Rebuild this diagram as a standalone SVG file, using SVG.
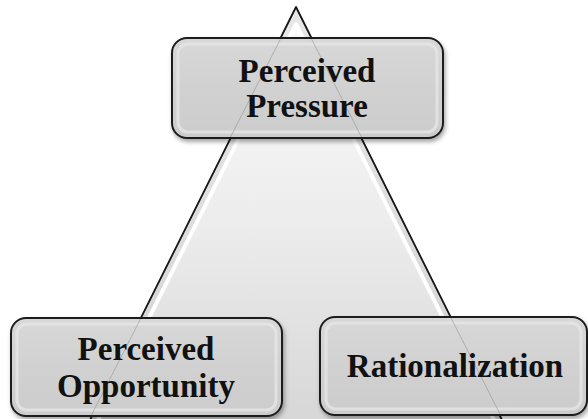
<svg xmlns="http://www.w3.org/2000/svg" width="588" height="419" viewBox="0 0 588 419">
<defs>
<linearGradient id="triFill" x1="0" y1="0" x2="0" y2="1" gradientUnits="objectBoundingBox">
<stop offset="0" stop-color="#fbfbfb"/>
<stop offset="0.5" stop-color="#ececec"/>
<stop offset="1" stop-color="#d6d6d6"/>
</linearGradient>
<linearGradient id="triOuter" x1="0" y1="0" x2="0" y2="1">
<stop offset="0" stop-color="#e8e8e8"/>
<stop offset="1" stop-color="#d2d2d2"/>
</linearGradient>
<linearGradient id="boxFill" x1="0" y1="0" x2="0" y2="1">
<stop offset="0" stop-color="#d8d8d8"/>
<stop offset="0.5" stop-color="#d1d1d1"/>
<stop offset="1" stop-color="#cccccc"/>
</linearGradient>
<filter id="shadow" x="-10%" y="-10%" width="125%" height="130%">
<feDropShadow dx="1.5" dy="3" stdDeviation="2" flood-color="#000" flood-opacity="0.35"/>
</filter>
<filter id="soft" x="-5%" y="-5%" width="110%" height="110%">
<feGaussianBlur stdDeviation="0.7"/>
</filter>
</defs>
<style>
.box{fill:url(#boxFill);stroke:#1e1e1e;stroke-width:2;filter:url(#shadow)}
.hl{fill:none;stroke:#e6e6e6;stroke-width:3;opacity:0.8;filter:url(#soft)}
.ghost{stroke:#8a8a8a;stroke-width:1;opacity:0.5;fill:none}
.lbl{font-family:"Liberation Serif","Times New Roman",serif;font-weight:bold;font-size:33px;fill:#111;text-anchor:middle}
</style>
<rect width="588" height="419" fill="#ffffff"/>
<g id="connectors">
<path d="M296,7 L85,430 L507,430 Z" fill="url(#triOuter)" stroke="#151515" stroke-width="1.8" stroke-linejoin="round"/>
<path d="M296,24 L93,430 L499,430 Z" fill="url(#triFill)" stroke="#ffffff" stroke-width="4" stroke-linejoin="round" filter="url(#soft)"/>
</g>
<g id="node-pressure">
<rect class="box" x="172" y="38" width="271" height="100" rx="15"/>
<rect class="hl" x="178" y="44" width="259" height="88" rx="10"/>
<line class="ghost" x1="280.5" y1="39" x2="230.5" y2="137"/>
<line class="ghost" x1="311.5" y1="39" x2="361.5" y2="137"/>
<text class="lbl" x="307" y="82">Perceived</text>
<text class="lbl" x="307" y="117">Pressure</text>
</g>
<g id="node-opportunity">
<rect class="box" x="11" y="318" width="271" height="98" rx="15"/>
<rect class="hl" x="17" y="324" width="259" height="86" rx="10"/>
<line class="ghost" x1="140.5" y1="319" x2="91.5" y2="415"/>
<text class="lbl" x="146" y="360">Perceived</text>
<text class="lbl" x="146" y="397">Opportunity</text>
</g>
<g id="node-rationalization">
<rect class="box" x="320" y="317" width="267" height="98" rx="15"/>
<rect class="hl" x="326" y="323" width="255" height="86" rx="10"/>
<line class="ghost" x1="451" y1="318" x2="500" y2="414"/>
<text class="lbl" x="455" y="377">Rationalization</text>
</g>
</svg>
